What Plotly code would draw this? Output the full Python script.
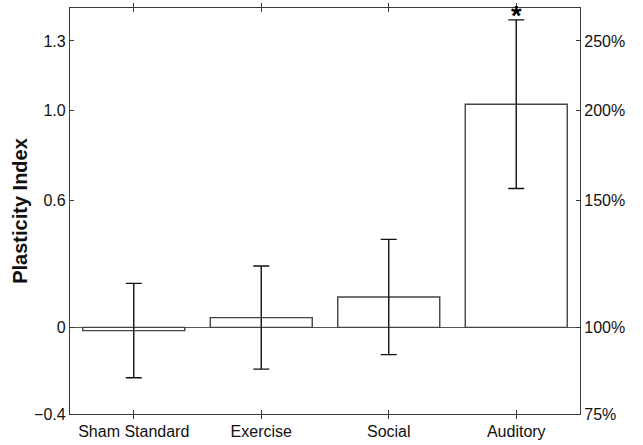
import math
import plotly.graph_objects as go

categories = ["Sham Standard", "Exercise", "Social", "Auditory"]
plasticity = [-0.015, 0.045, 0.14, 1.03]
sem = [0.218, 0.238, 0.266, 0.389]

percent_ticks = [75, 100, 150, 200, 250]
left_tick_labels = ["\u22120.4", "0", "0.6", "1.0", "1.3"]
right_tick_labels = ["75%", "100%", "150%", "200%", "250%"]

y_range = [-0.4, 1.474]
tick_positions = [max(math.log2(p / 100), y_range[0]) for p in percent_ticks]
line_col = "#3a3a3a"
font_family = "Liberation Sans, Arial, Helvetica, sans-serif"

fig = go.Figure()
fig.add_trace(go.Bar(
    x=categories, y=plasticity, width=0.8,
    marker=dict(color="white", line=dict(color="#444444", width=1.4)),
    error_y=dict(type="data", array=sem, visible=True, color="#111111",
                 thickness=1.4, width=8),
    showlegend=False,
))
# invisible trace for right axis
fig.add_trace(go.Scatter(x=categories, y=plasticity, yaxis="y2",
                         mode="markers", marker=dict(opacity=0),
                         showlegend=False, hoverinfo="skip"))

fig.add_annotation(x=categories[3], y=1, xref="x", yref="paper",
                   text="<b>*</b>", showarrow=False, yanchor="top",
                   yshift=8, borderpad=0,
                   font=dict(size=27, color="black", family=font_family))

fig.update_layout(
    width=643, height=445,
    margin=dict(l=70, r=63, t=8, b=31, autoexpand=False),
    paper_bgcolor="white", plot_bgcolor="white",
    font=dict(family=font_family, size=16, color="#111111"),
    bargap=0.2,
    xaxis=dict(range=[-0.5, 3.5], showline=True, linecolor=line_col, linewidth=1.2,
               mirror="allticks", ticks="inside", ticklen=4, tickcolor=line_col,
               showgrid=False, tickfont=dict(size=16), ticklabelstandoff=3,
               automargin=False),
    yaxis=dict(range=y_range, tickvals=tick_positions, ticktext=left_tick_labels,
               showline=True, linecolor=line_col, linewidth=1.2, ticks="inside",
               ticklen=4, tickcolor=line_col, showgrid=False,
               zeroline=True, zerolinecolor="#555555", zerolinewidth=1.2,
               title=dict(text="<b>Plasticity Index</b>", standoff=1, font=dict(size=20)),
               tickfont=dict(size=16), automargin=False),
    yaxis2=dict(range=y_range, tickvals=tick_positions, ticktext=right_tick_labels,
                overlaying="y", side="right", showline=True, linecolor=line_col,
                linewidth=1.2, ticks="inside", ticklen=4, tickcolor=line_col,
                showgrid=False, zeroline=False, tickfont=dict(size=16),
                automargin=False),
)
fig.write_html("out.html")
